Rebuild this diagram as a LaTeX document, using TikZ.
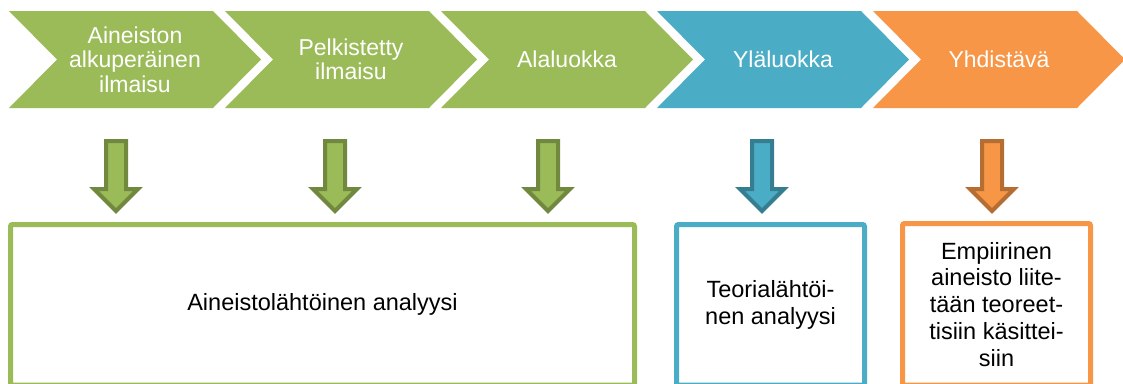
\documentclass[tikz,border=0pt]{standalone}
\usepackage{fontspec}
\setmainfont{Liberation Sans}
\usetikzlibrary{calc}
\definecolor{grn}{HTML}{9BBB59}
\definecolor{grndark}{HTML}{71893F}
\definecolor{blu}{HTML}{4BACC6}
\definecolor{bludark}{HTML}{357D91}
\definecolor{org}{HTML}{F79646}
\definecolor{orgdark}{HTML}{B66D31}
\def\chevw{204}
\def\chevtip{48}
\def\chevstep{216}
\def\chevhalf{48.5}

\begin{document}
\begin{tikzpicture}[x=1pt,y=-1pt,
  chevtext/.style={text=white, align=center, font=\fontsize{23}{24.5}\selectfont},
  boxnode/.style={draw, line width=5pt, rounded corners=2pt, inner sep=0pt, align=center, font=\fontsize{23.5}{26.7}\selectfont, text=black}]
  \useasboundingbox (0,0) rectangle (1123,383);
  \clip (0,0) rectangle (1123,383);
  % chevrons along the top
  \foreach \i/\col/\nm/\txt in {0/grn/orig/{Aineiston\\alkuperäinen\\ilmaisu}, 1/grn/pelk/{Pelkistetty\\ilmaisu}, 2/grn/ala/{Alaluokka}, 3/blu/yla/{Yläluokka}, 4/org/yhd/{Yhdistävä}}
  {
    \fill[\col] ({9+\i*\chevstep},11) -- ++(\chevw,0) -- ++(\chevtip,\chevhalf) -- ++(-\chevtip,\chevhalf)
      -- ++(-\chevw,0) -- ++(\chevtip,-\chevhalf) -- cycle;
    \node[chevtext] (\nm) at ({9+\i*\chevstep+126},59.5) {\txt};
  };
  % block arrows pointing down
  \foreach \x/\col/\edge in {116/grn/grndark, 335/grn/grndark, 548/grn/grndark, 762/blu/bludark, 992/org/orgdark}
    \draw[line width=4pt, fill=\col, draw=\edge] (\x-10,141) -- (\x+10,141) -- (\x+10,189) -- (\x+22,189)
      -- (\x,211) -- (\x-22,189) -- (\x-10,189) -- cycle;
  % boxes at the bottom
  \node[boxnode, draw=grn, minimum width=624, minimum height=160.5] (aineisto) at (322.5,304.75) {Aineistolähtöinen analyysi};
  \node[boxnode, draw=blu, minimum width=188, minimum height=160.5] (teoria) at (770.5,304.75) {Teorialähtöi-\\nen analyysi};
  \node[boxnode, draw=org, minimum width=188, minimum height=161.5] (empiria) at (996.5,304.25) {Empiirinen\\aineisto liite-\\tään teoreet-\\tisiin käsittei-\\siin};
\end{tikzpicture}
\end{document}
